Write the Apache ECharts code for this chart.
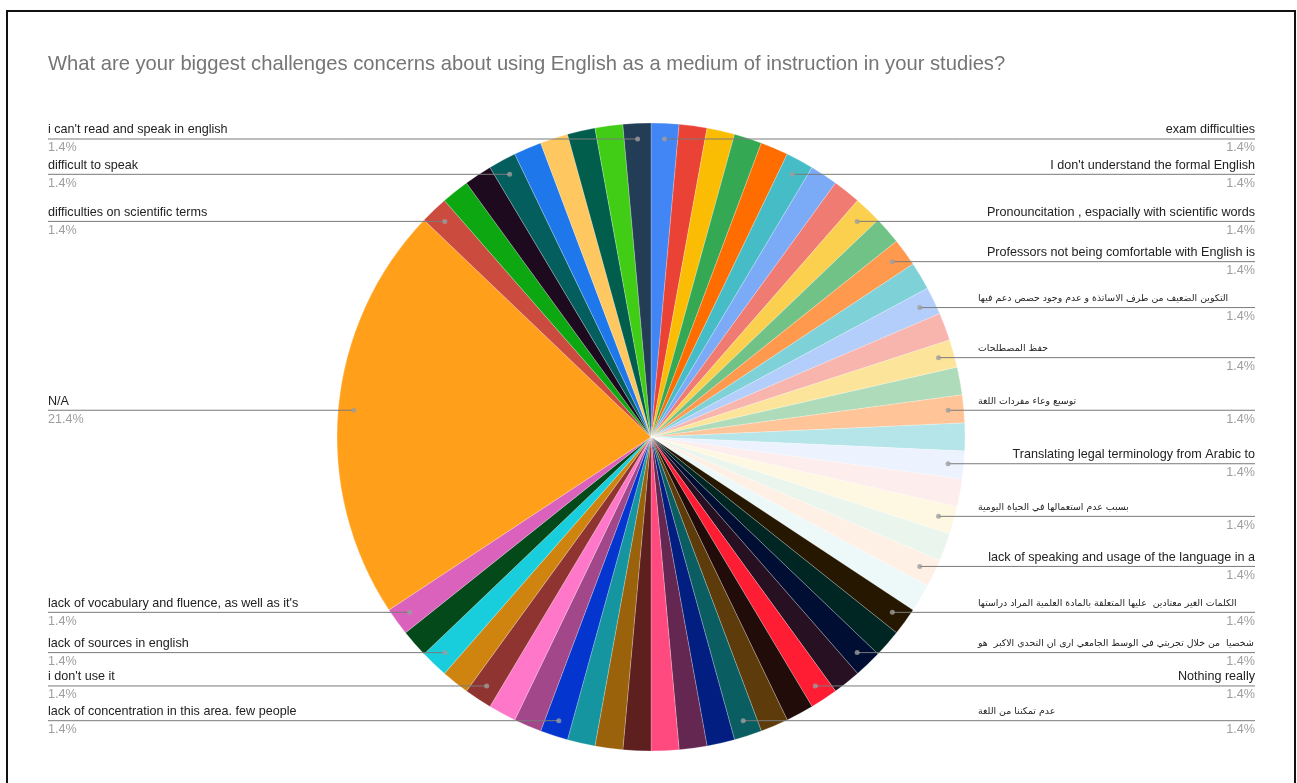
<!DOCTYPE html>
<html>
<head>
<meta charset="utf-8">
<script src="https://cdn.jsdelivr.net/npm/echarts@6/dist/echarts.min.js"></script>
<style>
  html, body { margin: 0; padding: 0; background: #fff; }
  #frame { position: absolute; left: 6px; top: 10px; width: 1286px; height: 800px; border: 2px solid #111; border-bottom: none; }
  #chart { position: absolute; left: 0; top: 0; width: 1297px; height: 783px; }
</style>
</head>
<body>
<div id="frame"></div>
<div id="chart"></div>
<script>
const titleText = 'What are your biggest challenges concerns about using English as a medium of instruction in your studies?';

// Slice names in drawing order (clockwise from 12 o'clock); '' = response whose label is not shown
const categories = [
  'exam difficulties', '', '', '', '',
  "I don't understand the formal English", '', '',
  'Pronouncitation , espacially with scientific words', '',
  'Professors not being comfortable with English is', '',
  'التكوين الضعيف من طرف الاساتذة و عدم وجود حصص دعم فيها', '',
  'حفظ المصطلحات', '',
  'توسيع وعاء مفردات اللغة', '',
  'Translating legal terminology from Arabic to', '',
  'بسبب عدم استعمالها في الحياة اليومية', '',
  'lack of speaking and usage of the language in a', '',
  'الكلمات الغير معتادين  عليها المتعلقة بالمادة العلمية المراد دراستها', '',
  'شخصيا  من خلال تجربتي في الوسط الجامعي ارى ان التحدي الاكبر  هو', '',
  'Nothing really', '', '',
  'عدم تمكننا من اللغة', '', '', '', '', '', '',
  'lack of concentration in this area. few people', '', '',
  "i don't use it", '',
  'lack of sources in english', '',
  "lack of vocabulary and fluence, as well as it's",
  'N/A',
  'difficulties on scientific terms', '', '',
  'difficult to speak', '', '', '', '',
  "i can't read and speak in english"
];

// Response counts per slice (N/A = 15 of 70)
const counts = [
  1, 1, 1, 1, 1, 1, 1, 1, 1, 1,
  1, 1, 1, 1, 1, 1, 1, 1, 1, 1,
  1, 1, 1, 1, 1, 1, 1, 1, 1, 1,
  1, 1, 1, 1, 1, 1, 1, 1, 1, 1,
  1, 1, 1, 1, 1, 1, 15, 1, 1, 1,
  1, 1, 1, 1, 1, 1
];

const sliceColors = [
  '#4285F4', '#EA4335', '#FBBC04', '#34A853', '#FF6D01', '#46BDC6', '#7BAAF7', '#F07B72',
  '#FCD04F', '#71C287', '#FF994D', '#7ED1D7', '#B3CEFB', '#F7B5AE', '#FDE49B', '#AEDCBA',
  '#FFC599', '#B5E5E8', '#ECF3FE', '#FDEDEC', '#FEF8E3', '#EAF6ED', '#FFF0E6', '#EDF8F9',
  '#261800', '#002624', '#000E33', '#261022', '#FF1D34', '#220C0A', '#5E3B0A', '#0A5E62',
  '#011E80', '#632751', '#FF4A80', '#5E1F1F', '#9A620A', '#14959F', '#0435CE', '#A1478A',
  '#FF77C9', '#8F3430', '#CE840E', '#19CEDC', '#03491A', '#DA62BC', '#FF9F1A', '#CB4B3F',
  '#0DA712', '#1E0A1E', '#055E5E', '#1E78EB', '#FFC760', '#025E4C', '#41CD16', '#223D55'
];

const CX = 651, CY = 437, R = 314;
const DOT_FRAC = 0.95;
const RIGHT_EDGE = 1255, LEFT_EDGE = 48, RIGHT_BOX = 277;
const LATIN = 'Liberation Sans, Arial, sans-serif';
const ARABIC = 'DejaVu Sans, sans-serif';

const total = counts.reduce((a, b) => a + b, 0);
const isArabic = s => /[\u0600-\u06FF]/.test(s);
const pct = v => (v / total * 100).toFixed(1) + '%';

// cumulative midpoints (in count units) for the label dots
const mids = [];
let acc = 0;
counts.forEach(v => { mids.push(acc + v / 2); acc += v; });

const pieData = categories.map((name, i) => ({
  name: name, value: counts[i], itemStyle: { color: sliceColors[i] }
}));

const labelData = categories.map((name, i) => {
  const shown = name !== '';
  const rightSide = mids[i] < total / 2;
  const item = { name: name, value: counts[i] };
  if (!shown) {
    item.label = { show: false };
    item.labelLine = { show: false };
  } else {
    const key = isArabic(name) ? 'ar' : (rightSide ? 'nr' : 'nl');
    item.label = {
      show: true,
      width: rightSide ? RIGHT_BOX : 320,
      formatter: '{' + key + '|' + name + '}\n{' + (rightSide ? 'pr' : 'pl') + '|' + pct(counts[i]) + '}'
    };
  }
  return item;
});

const dotData = [];
categories.forEach((name, i) => { if (name !== '') dotData.push([DOT_FRAC, mids[i]]); });

const chart = echarts.init(document.getElementById('chart'), null, { renderer: 'canvas' });
chart.setOption({
  backgroundColor: 'transparent',
  animation: false,
  title: {
    text: titleText,
    left: 48, top: 54, padding: 0,
    textStyle: { fontFamily: LATIN, fontSize: 20.2, fontWeight: 'normal', color: '#757575' }
  },
  polar: { center: [CX, CY], radius: R },
  angleAxis: { type: 'value', min: 0, max: total, startAngle: 90, clockwise: true, show: false },
  radiusAxis: { type: 'value', min: 0, max: 1, show: false },
  series: [
    {
      type: 'pie',
      center: [CX, CY],
      radius: R,
      startAngle: 90,
      clockwise: true,
      silent: true,
      data: pieData,
      itemStyle: { borderColor: 'rgba(255,255,255,0.45)', borderWidth: 0.5 },
      label: { show: false },
      labelLine: { show: false }
    },
    {
      type: 'pie',
      center: [CX, CY],
      radius: R,
      startAngle: 90,
      clockwise: true,
      avoidLabelOverlap: false,
      silent: true,
      z: 3,
      data: labelData,
      itemStyle: { color: 'rgba(0,0,0,0)', borderWidth: 0 },
      label: {
        position: 'outside',
        alignTo: 'none',
        overflow: 'none',
        rich: {
          nr: { fontFamily: LATIN, fontSize: 12.6, color: '#222', align: 'right', lineHeight: 18 },
          nl: { fontFamily: LATIN, fontSize: 12.6, color: '#222', align: 'left', lineHeight: 18 },
          ar: { fontFamily: ARABIC, fontSize: 9.4, color: '#222', align: 'left', lineHeight: 18 },
          pr: { fontFamily: LATIN, fontSize: 12.6, color: '#9e9e9e', align: 'right', lineHeight: 18 },
          pl: { fontFamily: LATIN, fontSize: 12.6, color: '#9e9e9e', align: 'left', lineHeight: 18 }
        }
      },
      labelLine: { show: true, length: 5, length2: 10, lineStyle: { color: '#7a7a7a', width: 1 } },
      labelLayout: function (p) {
        const pts = p.labelLinePoints;
        if (!pts || categories[p.dataIndex] === '') return {};
        const e = pts[0];
        const dx = e[0] - CX, dy = e[1] - CY;
        const dot = [CX + dx * DOT_FRAC, CY + dy * DOT_FRAC];
        const right = mids[p.dataIndex] < total / 2;
        const endX = right ? RIGHT_EDGE : LEFT_EDGE;
        return {
          x: endX,
          y: dot[1],
          align: right ? 'right' : 'left',
          verticalAlign: 'middle',
          labelLinePoints: [dot, dot, [endX, dot[1]]]
        };
      }
    },
    {
      type: 'scatter',
      coordinateSystem: 'polar',
      data: dotData,
      symbol: 'circle',
      symbolSize: 5,
      silent: true,
      itemStyle: { color: '#9e9e9e' },
      z: 5
    }
  ]
});
</script>
</body>
</html>
